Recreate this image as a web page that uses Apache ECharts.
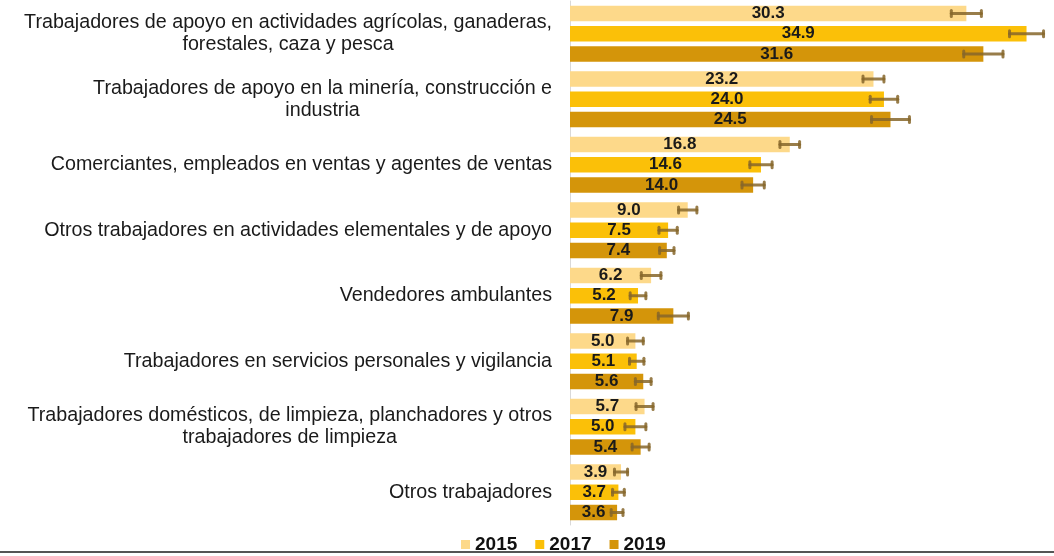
<!DOCTYPE html>
<html>
<head>
<meta charset="utf-8">
<script src="https://cdn.jsdelivr.net/npm/echarts@6/dist/echarts.min.js"></script>
<style>
html,body{margin:0;padding:0;background:#fff;}
#chart{width:1054px;height:556px;}
</style>
</head>
<body>
<div id="chart"></div>
<script>
const categories = [
  "Trabajadores de apoyo en actividades agrícolas, ganaderas,\nforestales, caza y pesca",
  "Trabajadores de apoyo en la minería, construcción e\nindustria",
  "Comerciantes, empleados en ventas y agentes de ventas",
  "Otros trabajadores en actividades elementales y de apoyo",
  "Vendedores ambulantes",
  "Trabajadores en servicios personales y vigilancia",
  "Trabajadores domésticos, de limpieza, planchadores y otros\ntrabajadores de limpieza",
  "Otros trabajadores"
];
const years = ["2015", "2017", "2019"];
const values2015 = [30.3, 23.2, 16.8, 9.0, 6.2, 5.0, 5.7, 3.9];
const values2017 = [34.9, 24.0, 14.6, 7.5, 5.2, 5.1, 5.0, 3.7];
const values2019 = [31.6, 24.5, 14.0, 7.4, 7.9, 5.6, 5.4, 3.6];
// half-width of the error bars
const err2015 = [1.15, 0.8, 0.75, 0.7, 0.75, 0.6, 0.65, 0.5];
const err2017 = [1.3, 1.05, 0.85, 0.7, 0.6, 0.55, 0.8, 0.45];
const err2019 = [1.5, 1.45, 0.85, 0.55, 1.15, 0.6, 0.65, 0.45];

const colors = ['#FDD98A', '#FBC008', '#D4950A'];
const errColor = '#86662A';
const FONT = '"Liberation Sans", Arial, sans-serif';
const BAR_W = 15.5;
const BAR_GAP = 0.31;
const PITCH = BAR_W * (1 + BAR_GAP);

const allValues = [values2015, values2017, values2019];
const allErr = [err2015, err2017, err2019];

const barSeries = years.map((y, i) => ({
  name: y,
  type: 'bar',
  data: allValues[i],
  barWidth: BAR_W,
  barGap: (BAR_GAP * 100) + '%',
  itemStyle: { color: colors[i] },
  label: {
    show: true,
    position: 'inside',
    fontFamily: FONT,
    fontWeight: 'bold',
    fontSize: 17,
    color: '#1a1a1a',
    formatter: p => p.value.toFixed(1)
  },
  z: 2
}));

const errSeries = years.map((y, i) => ({
  name: y + ' err',
  type: 'custom',
  data: allValues[i].map((v, k) => [v - allErr[i][k], v + allErr[i][k], k]),
  encode: { x: [0, 1], y: 2 },
  z: 3,
  silent: true,
  renderItem: function (params, api) {
    const lo = api.coord([api.value(0), api.value(2)]);
    const hi = api.coord([api.value(1), api.value(2)]);
    const yy = lo[1] + (i - 1) * PITCH;
    const st = { stroke: errColor, lineWidth: 3, opacity: 0.85, lineCap: 'round' };
    return {
      type: 'group',
      children: [
        { type: 'line', shape: { x1: lo[0], y1: yy, x2: hi[0], y2: yy }, style: st },
        { type: 'line', shape: { x1: lo[0], y1: yy - 3, x2: lo[0], y2: yy + 3 }, style: st },
        { type: 'line', shape: { x1: hi[0], y1: yy - 3, x2: hi[0], y2: yy + 3 }, style: st }
      ]
    };
  }
}));

const chart = echarts.init(document.getElementById('chart'), null, { renderer: 'canvas' });
chart.setOption({
  backgroundColor: '#ffffff',
  animation: false,
  textStyle: { fontFamily: FONT },
  grid: { left: 570, right: 0, top: 1, bottom: 31, containLabel: false },
  legend: {
    data: years,
    left: 461,
    top: 535,
    padding: 0,
    icon: 'rect',
    itemWidth: 9,
    itemHeight: 9,
    itemGap: 18,
    textStyle: { fontFamily: FONT, fontWeight: 'bold', fontSize: 19, color: '#111' }
  },
  xAxis: {
    type: 'value',
    min: 0,
    max: 37,
    show: false,
    splitLine: { show: false }
  },
  yAxis: {
    type: 'category',
    data: categories,
    inverse: true,
    axisLine: { show: true, lineStyle: { color: '#d9d9d9', width: 1 } },
    axisTick: { show: false },
    axisLabel: {
      margin: 18,
      fontFamily: FONT,
      fontSize: 19.7,
      color: '#1a1a1a',
      lineHeight: 22,
      formatter: v => v.split('\n').map(l => '{c|' + l + '}').join('\n'),
      rich: {
        c: { align: 'center', fontFamily: FONT, fontSize: 19.7, lineHeight: 22, color: '#1a1a1a' }
      }
    }
  },
  graphic: [
    {
      type: 'line',
      shape: { x1: 0, y1: 552, x2: 1054, y2: 552 },
      style: { stroke: '#555555', lineWidth: 2 },
      z: 10
    }
  ],
  series: barSeries.concat(errSeries)
});
</script>
</body>
</html>
